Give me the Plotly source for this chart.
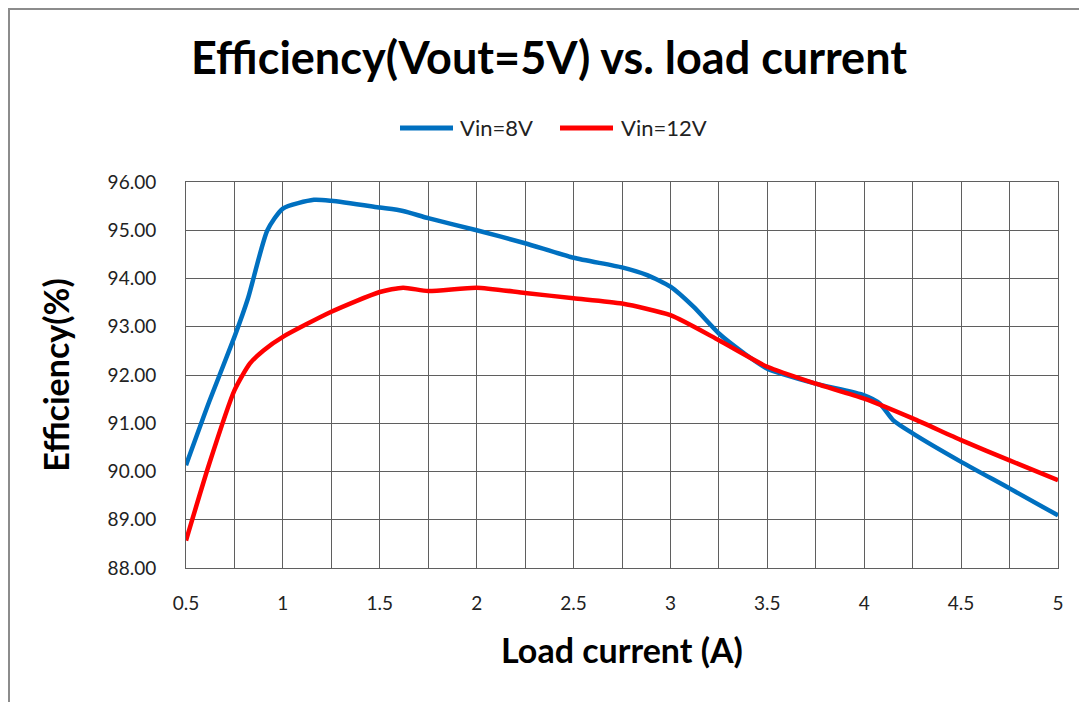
import plotly.graph_objects as go

# Data
load_8v = [0.5, 0.62, 0.75, 0.82, 0.92, 1.0, 1.16, 1.25, 1.5, 1.62, 1.75, 2.0, 2.25, 2.5, 2.75,
           2.88, 3.0, 3.12, 3.25, 3.38, 3.5, 3.75, 4.0, 4.08, 4.15, 4.25, 4.5, 4.75, 5.0]
eff_8v = [90.13, 91.45, 92.79, 93.59, 95.0, 95.45, 95.63, 95.61, 95.47, 95.40, 95.25, 95.0, 94.73,
          94.43, 94.23, 94.07, 93.83, 93.41, 92.86, 92.45, 92.13, 91.82, 91.58, 91.41, 91.06, 90.79,
          90.2, 89.65, 89.09]

load_12v = [0.5, 0.62, 0.75, 0.83, 0.9, 1.0, 1.25, 1.5, 1.62, 1.75, 2.0, 2.25, 2.5, 2.75, 3.0,
            3.25, 3.5, 3.75, 4.0, 4.25, 4.5, 4.75, 5.0]
eff_12v = [88.57, 90.16, 91.68, 92.24, 92.51, 92.79, 93.31, 93.72, 93.81, 93.74, 93.81, 93.70,
           93.59, 93.48, 93.24, 92.72, 92.17, 91.82, 91.51, 91.10, 90.65, 90.23, 89.82]

series_names = ["Vin=8V", "Vin=12V"]
series_colors = ["#0070C0", "#FF0000"]

x_ticks = [0.5, 1, 1.5, 2, 2.5, 3, 3.5, 4, 4.5, 5]
x_tick_labels = ["0.5", "1", "1.5", "2", "2.5", "3", "3.5", "4", "4.5", "5"]
y_ticks = [88, 89, 90, 91, 92, 93, 94, 95, 96]

FONT = "Lato"
W, H = 1079, 694
L, R, T, B = 178, 29, 174, 134
plot_w = W - L - R
plot_h = H - T - B
OFF = 8  # page offset of the figure inside the browser window


def px_x(page_x):
    return (page_x - OFF - L) / plot_w


def px_y(page_y):
    return (H - B - (page_y - OFF)) / plot_h


fig = go.Figure()
for xs, ys, name, col in [(load_8v, eff_8v, series_names[0], series_colors[0]),
                          (load_12v, eff_12v, series_names[1], series_colors[1])]:
    fig.add_trace(go.Scatter(x=xs, y=ys, mode="lines", name=name, showlegend=False,
                             line=dict(color=col, width=4.5, shape="spline", smoothing=0.6)))

grid_color = "#5f5f5f"
fig.update_layout(
    width=W, height=H,
    margin=dict(l=L, r=R, t=T, b=B),
    paper_bgcolor="white", plot_bgcolor="white",
    font=dict(family=FONT, color="black"),
    title=dict(text="<b>Efficiency(Vout=5V) vs. load current</b>",
               x=(549 - OFF) / W, xanchor="center", y=1 - 50 / H, yanchor="middle",
               xref="container", yref="container",
               font=dict(size=45, family=FONT, color="black")),
    showlegend=False,
    xaxis=dict(range=[0.5, 5], tickvals=x_ticks, ticktext=x_tick_labels,
               showgrid=True, gridcolor=grid_color, gridwidth=1,
               minor=dict(dtick=0.25, tick0=0.5, showgrid=True, gridcolor=grid_color, gridwidth=1),
               showline=True, linecolor=grid_color, linewidth=1, mirror=True,
               zeroline=False, ticks="", ticklabelstandoff=18,
               tickfont=dict(size=19, family=FONT, color="#222222"),
               title=dict(text="<b>Load current (A)</b>", font=dict(size=34, family=FONT),
                          standoff=26)),
    yaxis=dict(range=[88, 96], tickvals=y_ticks, tickformat=".2f",
               showgrid=True, gridcolor=grid_color, gridwidth=1,
               showline=True, linecolor=grid_color, linewidth=1, mirror=True,
               zeroline=False, ticks="", ticklabelstandoff=25,
               tickfont=dict(size=19, family=FONT, color="#222222"),
               title=dict(text="<b>Efficiency(%)</b>", font=dict(size=34, family=FONT),
                          standoff=27)),
)

# custom legend (long line samples as in the reference)
legend_y = px_y(128)
legend_pos = [(400, 453, 458), (560, 613, 619)]
for (x0, x1, xt), name, col in zip(legend_pos, series_names, series_colors):
    fig.add_shape(type="line", xref="paper", yref="paper",
                  x0=px_x(x0), x1=px_x(x1), y0=legend_y, y1=legend_y,
                  line=dict(color=col, width=5))
    fig.add_annotation(xref="paper", yref="paper", x=px_x(xt), y=legend_y,
                       text=name, showarrow=False, xanchor="left", yanchor="middle",
                       font=dict(size=22, family=FONT, color="#222222"))

# outer chart frame (gray), like the spreadsheet chart border
fig.add_shape(type="rect", xref="paper", yref="paper",
              x0=(1 - L) / plot_w, x1=1.2, y0=-0.6, y1=(H - B - 1) / plot_h,
              line=dict(color="#8c8c8c", width=2), fillcolor="rgba(0,0,0,0)", layer="below")

fig.write_html("out.html")
